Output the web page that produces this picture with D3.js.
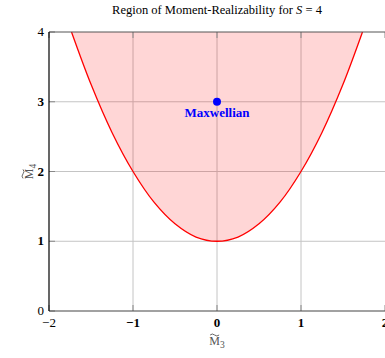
<!DOCTYPE html>
<html>
<head>
<meta charset="utf-8">
<script src="https://cdn.jsdelivr.net/npm/d3@7"></script>
<style>
  body { margin: 0; background: #fff; }
  svg { display: block; font-family: "Liberation Serif", "DejaVu Serif", serif; }
</style>
</head>
<body>
<div id="chart"></div>
<script>
// boundary of the realizable region
const boundaryM3 = [-1.732, -1.5, -1.25, -1, -0.75, -0.5, -0.25, 0, 0.25, 0.5, 0.75, 1, 1.25, 1.5, 1.732];
const boundaryM4 = [4, 3.25, 2.56, 2, 1.56, 1.25, 1.06, 1, 1.06, 1.25, 1.56, 2, 2.56, 3.25, 4];

const xTicks = [-2, -1, 0, 1, 2];
const yTicks = [0, 1, 2, 3, 4];
const maxwellian = { m3: 0, m4: 3, label: "Maxwellian" };

const width = 385, height = 358;
const margin = { top: 32, right: 0, bottom: 47, left: 49 };

const svg = d3.select("#chart").append("svg")
    .attr("width", width)
    .attr("height", height);

const x = d3.scaleLinear().domain([-2, 2]).range([margin.left, margin.left + 336]);
const y = d3.scaleLinear().domain([0, 4]).range([height - margin.bottom, margin.top]);

const points = boundaryM3.map((d, i) => [d, boundaryM4[i]]);

// grid
svg.append("g").selectAll("line")
    .data(xTicks.slice(1, -1))
    .enter().append("line")
    .attr("x1", d => x(d)).attr("x2", d => x(d))
    .attr("y1", y(0)).attr("y2", y(4))
    .attr("stroke", "#c4c4c4").attr("stroke-width", 1);
svg.append("g").selectAll("line")
    .data(yTicks.slice(1, -1))
    .enter().append("line")
    .attr("x1", x(-2)).attr("x2", x(2))
    .attr("y1", d => y(d)).attr("y2", d => y(d))
    .attr("stroke", "#c4c4c4").attr("stroke-width", 1);

// filled region above the boundary
const area = d3.area()
    .x(d => x(d[0]))
    .y0(y(4))
    .y1(d => y(d[1]))
    .curve(d3.curveCatmullRom);
svg.append("path")
    .datum(points)
    .attr("d", area)
    .attr("fill", "#ff0000")
    .attr("fill-opacity", 0.16);

const line = d3.line()
    .x(d => x(d[0]))
    .y(d => y(d[1]))
    .curve(d3.curveCatmullRom);
svg.append("path")
    .datum(points)
    .attr("d", line)
    .attr("fill", "none")
    .attr("stroke", "#ff0000")
    .attr("stroke-width", 1.3);

// small ticks inside the frame
svg.append("g").selectAll("line")
    .data(xTicks)
    .enter().append("line")
    .attr("x1", d => x(d)).attr("x2", d => x(d))
    .attr("y1", y(0)).attr("y2", y(0) - 6)
    .attr("stroke", "#888");
svg.append("g").selectAll("line")
    .data(xTicks)
    .enter().append("line")
    .attr("x1", d => x(d)).attr("x2", d => x(d))
    .attr("y1", y(4)).attr("y2", y(4) + 6)
    .attr("stroke", "#888");
svg.append("g").selectAll("line")
    .data(yTicks)
    .enter().append("line")
    .attr("x1", x(-2)).attr("x2", x(-2) + 6)
    .attr("y1", d => y(d)).attr("y2", d => y(d))
    .attr("stroke", "#888");

// frame
svg.append("line")
    .attr("x1", x(-2)).attr("x2", x(2))
    .attr("y1", y(4)).attr("y2", y(4))
    .attr("stroke", "#555").attr("stroke-width", 1);
svg.append("line")
    .attr("x1", x(-2)).attr("x2", x(2))
    .attr("y1", y(0)).attr("y2", y(0))
    .attr("stroke", "#444").attr("stroke-width", 1.2);
svg.append("line")
    .attr("x1", x(-2)).attr("x2", x(-2))
    .attr("y1", y(0)).attr("y2", y(4))
    .attr("stroke", "#000").attr("stroke-width", 1.2);

// tick labels
const fmt = d => d < 0 ? "\u2212" + Math.abs(d) : String(d);
svg.append("g").selectAll("text")
    .data(xTicks)
    .enter().append("text")
    .attr("x", d => x(d))
    .attr("y", y(0) + 16)
    .attr("text-anchor", "middle")
    .attr("font-size", 13)
    .attr("font-weight", d => d === -2 ? "normal" : "bold")
    .text(fmt);
svg.append("g").selectAll("text")
    .data(yTicks)
    .enter().append("text")
    .attr("x", x(-2) - 5)
    .attr("y", d => y(d) + 4)
    .attr("text-anchor", "end")
    .attr("font-size", 13)
    .attr("font-weight", d => d === 0 || d === 4 ? "normal" : "bold")
    .text(d => d);

// title
const title = svg.append("text")
    .attr("x", 217)
    .attr("y", 14)
    .attr("text-anchor", "middle")
    .attr("font-size", 12.5);
title.append("tspan").text("Region of Moment-Realizability for ");
title.append("tspan").attr("font-style", "italic").text("S");
title.append("tspan").text(" = 4");

// axis labels: M with a tilde on top, subscripted
function momentLabel(g, sub) {
    const t = g.append("text")
        .attr("text-anchor", "middle")
        .attr("font-size", 12)
        .attr("fill", "#555");
    const m = t.append("tspan").text("M");
    t.append("tspan").attr("font-size", 9.5).attr("dy", 2.5).text(sub);
    const total = t.node().getComputedTextLength();
    const mw = m.node().getComputedTextLength();
    const cx = -total / 2 + mw / 2;
    g.append("path")
        .attr("d", `M${cx - 4.5},-10 q2.25,-2 4.5,0 t4.5,0`)
        .attr("fill", "none")
        .attr("stroke", "#555")
        .attr("stroke-width", 0.9);
}
momentLabel(svg.append("g").attr("transform", `translate(${x(0)},${y(0) + 34})`), "3");
momentLabel(svg.append("g").attr("transform", `translate(33,${y(2)}) rotate(-90)`), "4");

// Maxwellian point
svg.append("circle")
    .attr("cx", x(maxwellian.m3))
    .attr("cy", y(maxwellian.m4))
    .attr("r", 4)
    .attr("fill", "#0000ff");
svg.append("text")
    .attr("x", x(maxwellian.m3))
    .attr("y", y(maxwellian.m4) + 15)
    .attr("text-anchor", "middle")
    .attr("font-size", 13)
    .attr("font-weight", "bold")
    .attr("fill", "#0000ff")
    .text(maxwellian.label);
</script>
</body>
</html>
